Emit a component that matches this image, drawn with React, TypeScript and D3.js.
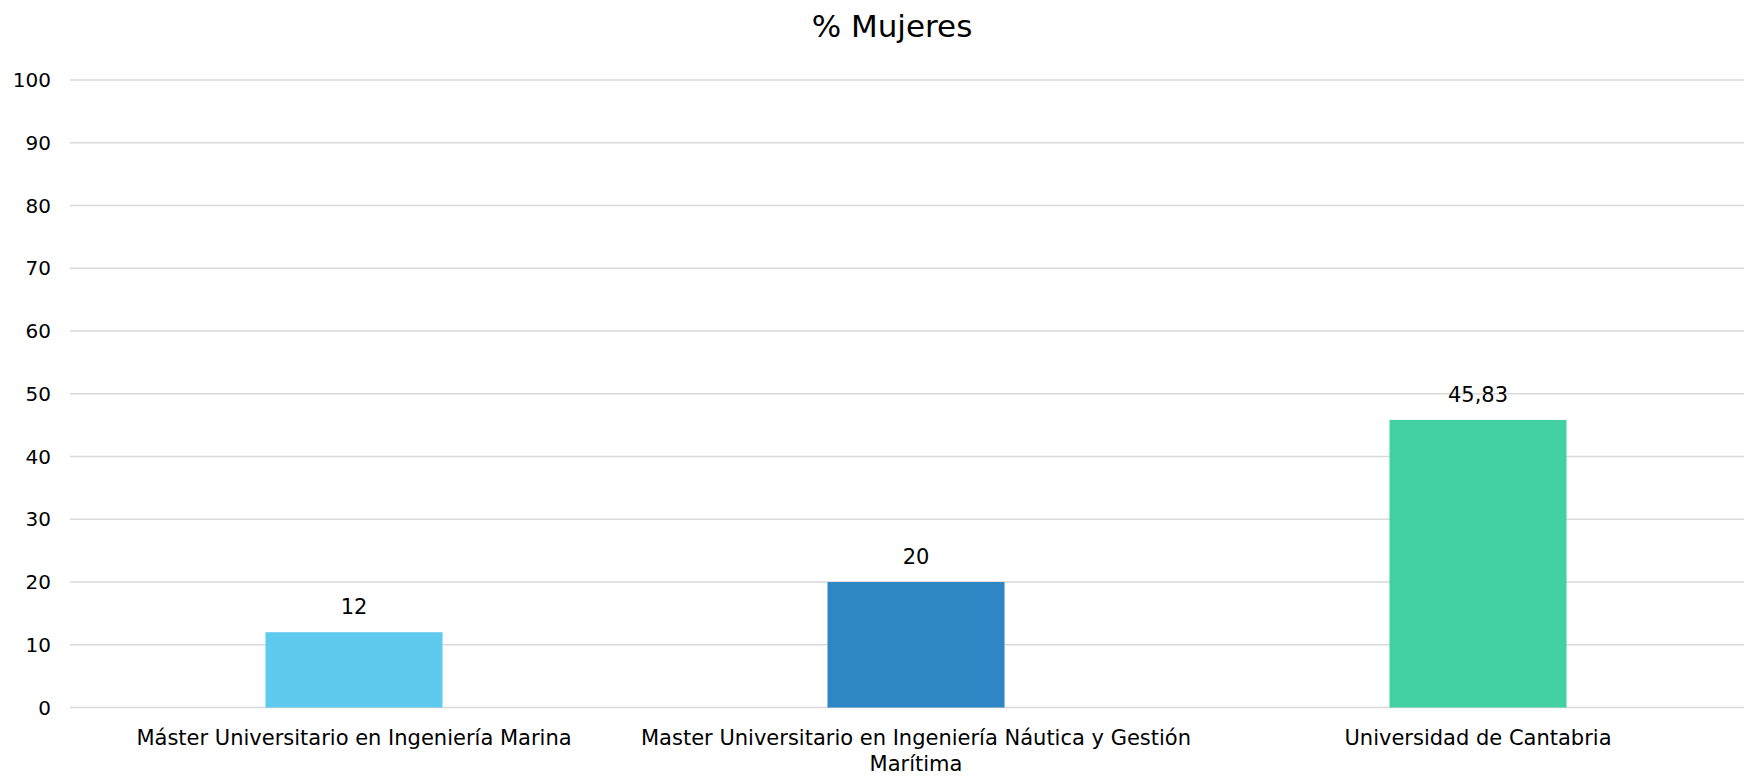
import React, { useEffect } from 'react'
import * as d3 from 'd3'

const categories = [
    ['Máster Universitario en Ingeniería Marina'],
    ['Master Universitario en Ingeniería Náutica y Gestión', 'Marítima'],
    ['Universidad de Cantabria'],
]
const values = [12, 20, 45.83]
const barColors = ['#5ECBEE', '#2E86C4', '#43D1A3']
const yTicks = [0, 10, 20, 30, 40, 50, 60, 70, 80, 90, 100]
const title = '% Mujeres'

const width = 1744
const height = 776
const font = '"DejaVu Sans", sans-serif'

function App() {
    useEffect(() => {
        document.body.style.margin = '0'
    }, [])

    const gridLeft = 70
    const y = d3.scaleLinear().domain([0, 100]).range([707.5, 80])
    const x = d3.scaleBand<number>()
        .domain(d3.range(values.length))
        .range([73, 1759])
        .paddingInner(0.685)
        .paddingOuter(0.3425)

    const fmt = (v: number) => String(v).replace('.', ',')

    return (
        <svg width={width} height={height} style={{ display: 'block', background: '#fff' }} fontFamily={font}>
            <text x={892} y={37} textAnchor="middle" fontSize={31} fill="#000">{title}</text>
            {yTicks.map(t => (
                <g key={t}>
                    <line x1={gridLeft} x2={width} y1={y(t)} y2={y(t)} stroke="#D9D9D9" strokeWidth={1.5} />
                    <text x={51} y={y(t)} dy="0.35em" textAnchor="end" fontSize={20} fill="#000">{t}</text>
                </g>
            ))}
            {values.map((v, i) => (
                <g key={i}>
                    <rect x={x(i)} y={y(v)} width={x.bandwidth()} height={y(0) - y(v)} fill={barColors[i]} />
                    <text x={(x(i) || 0) + x.bandwidth() / 2} y={y(v) - 18} textAnchor="middle" fontSize={21} fill="#000">{fmt(v)}</text>
                    {categories[i].map((line, j) => (
                        <text key={j} x={(x(i) || 0) + x.bandwidth() / 2} y={745 + j * 26} textAnchor="middle" fontSize={21} fill="#000">{line}</text>
                    ))}
                </g>
            ))}
        </svg>
    )
}

export default App
